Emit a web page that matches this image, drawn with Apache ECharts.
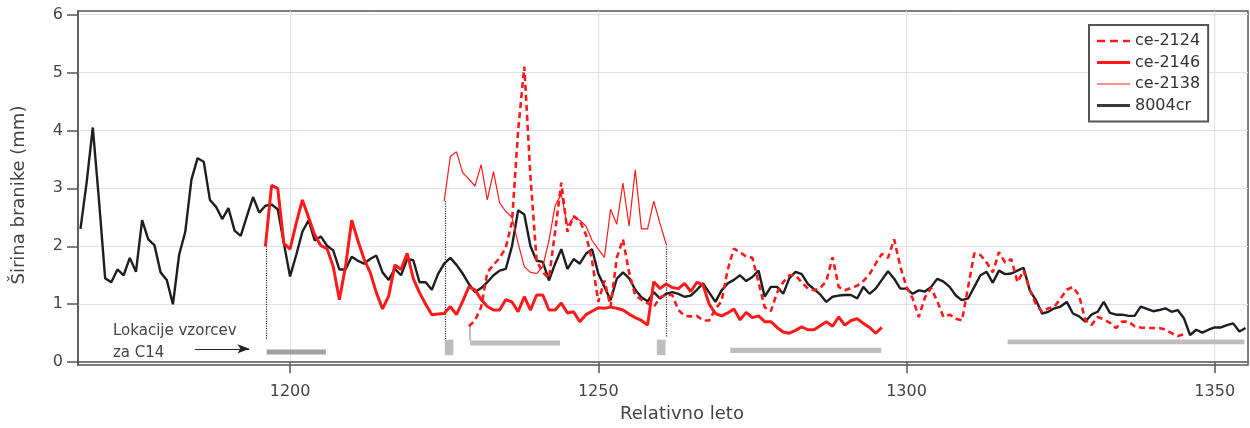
<!DOCTYPE html>
<html>
<head>
<meta charset="utf-8">
<script src="https://cdn.jsdelivr.net/npm/echarts@6/dist/echarts.min.js"></script>
<style>
html,body{margin:0;padding:0;background:#fff;}
#chart{width:1250px;height:428px;}
</style>
</head>
<body>
<div id="chart"></div>
<script>
// ---------- DATA ----------
const xTicks = [1200, 1250, 1300, 1350];
const yTicks = [0, 1, 2, 3, 4, 5, 6];

const start8004cr = 1166;
const values8004cr = [
 2.30,3.10,4.05,2.80,1.45,1.38,1.60,1.50,1.80,1.56,
 2.45,2.12,2.02,1.55,1.42,1.00,1.85,2.25,3.15,3.52,
 3.46,2.80,2.68,2.47,2.66,2.27,2.18,2.52,2.85,2.58,
 2.70,2.72,2.64,2.05,1.48,1.85,2.25,2.45,2.10,2.17,
 2.01,1.93,1.60,1.60,1.82,1.75,1.70,1.78,1.84,1.55,
 1.42,1.61,1.50,1.78,1.76,1.38,1.38,1.25,1.52,1.70,
 1.80,1.68,1.53,1.35,1.21,1.28,1.38,1.50,1.58,1.61,
 2.00,2.62,2.55,2.00,1.75,1.73,1.41,1.70,1.95,1.61,
 1.78,1.70,1.87,1.95,1.53,1.30,1.07,1.44,1.55,1.45,
 1.25,1.12,1.05,1.21,1.10,1.18,1.21,1.18,1.13,1.15,
 1.25,1.36,1.20,1.04,1.24,1.36,1.42,1.50,1.40,1.47,
 1.58,1.13,1.30,1.30,1.18,1.45,1.56,1.52,1.35,1.26,
 1.17,1.04,1.13,1.15,1.16,1.16,1.10,1.30,1.18,1.27,
 1.42,1.57,1.44,1.27,1.27,1.18,1.24,1.22,1.30,1.44,
 1.39,1.30,1.15,1.07,1.10,1.30,1.50,1.56,1.37,1.58,
 1.52,1.53,1.58,1.63,1.24,1.07,0.84,0.87,0.93,0.96,
 1.04,0.84,0.79,0.70,0.82,0.87,1.04,0.85,0.82,0.82,
 0.80,0.80,0.96,0.92,0.88,0.90,0.93,0.87,0.90,0.76,
 0.47,0.56,0.51,0.56,0.60,0.60,0.64,0.67,0.53,0.59
];

const startCe2146 = 1196;
const valuesCe2146 = [
 2.00,3.05,3.00,2.05,1.95,2.40,2.80,2.50,2.20,2.01,
 1.96,1.65,1.08,1.65,2.45,2.10,1.78,1.55,1.20,0.92,
 1.14,1.68,1.60,1.88,1.44,1.20,1.00,0.82,0.83,0.84,
 0.96,0.82,1.05,1.30,1.25,1.08,0.96,0.90,0.90,1.08,
 1.04,0.87,1.13,0.90,1.16,1.16,0.90,0.90,1.02,0.85,
 0.87,0.70,0.82,0.88,0.94,0.93,0.95,0.93,0.90,0.83,
 0.77,0.72,0.64,1.39,1.27,1.35,1.29,1.27,1.36,1.22,
 1.38,1.33,1.00,0.84,0.80,0.85,0.92,0.73,0.86,0.77,
 0.80,0.70,0.70,0.60,0.52,0.50,0.55,0.61,0.56,0.56,
 0.63,0.70,0.62,0.78,0.64,0.72,0.75,0.67,0.60,0.50,
 0.60
];

const startCe2138 = 1225;
const valuesCe2138 = [
 2.78,3.55,3.63,3.27,3.16,3.04,3.41,2.80,3.29,2.75,
 2.60,2.50,2.05,1.65,1.55,1.53,1.65,2.10,2.70,2.90,
 2.35,2.50,2.45,2.35,2.10,1.95,1.81,2.64,2.38,3.09,
 2.35,3.32,2.30,2.30,2.78,2.40,2.04
];

const startCe2124 = 1229;
const valuesCe2124 = [
 0.62,0.72,0.95,1.55,1.68,1.80,1.98,2.42,4.00,5.10,
 3.20,1.75,1.55,1.45,2.25,3.10,2.25,2.52,2.44,2.20,
 1.75,1.04,1.41,0.96,1.80,2.12,1.55,1.15,1.08,1.02,
 0.95,1.12,1.16,1.16,0.90,0.80,0.79,0.80,0.72,0.72,
 0.92,1.05,1.60,1.96,1.90,1.82,1.80,1.38,0.95,0.88,
 1.20,1.38,1.50,1.50,1.38,1.27,1.24,1.28,1.40,1.81,
 1.30,1.24,1.28,1.32,1.40,1.52,1.70,1.87,1.80,2.12,
 1.65,1.30,1.10,0.78,1.12,1.28,1.05,0.78,0.82,0.75,
 0.72,1.30,1.88,1.85,1.72,1.55,1.90,1.72,1.78,1.38,
 1.58,1.25,1.00,0.87,0.93,0.96,1.10,1.25,1.30,1.15,
 0.73,0.64,0.78,0.74,0.68,0.59,0.70,0.70,0.62,0.60,
 0.59,0.59,0.59,0.56,0.50,0.45,0.48
];

// C14 sample locations (x from, x to, y low, y high)
const c14From = [1196.2, 1225.1, 1229.2, 1259.5, 1271.4, 1316.4];
const c14To   = [1205.8, 1226.5, 1243.8, 1260.9, 1295.9, 1354.8];
const c14Low  = [0.135, 0.12, 0.29, 0.12, 0.16, 0.31];
const c14High = [0.220, 0.39, 0.375, 0.39, 0.25, 0.39];

// dotted connector lines (x, y top, y bottom)
const connX   = [1196.1, 1225.1, 1261.0];
const connTop = [2.00, 2.78, 2.04];
const connBot = [0.39, 0.39, 0.44];
// small grey connector at start of ce-2124
const greyConnX = 1229.2, greyConnTop = 0.62, greyConnBot = 0.375;

// annotation arrow (year from, year to, value)
const arrowFrom = 1184.6, arrowTo = 1193.4, arrowY = 0.23;

function pairs(start, vals){ return vals.map((v,i)=>[start+i, v]); }

// ---------- CHART ----------
const chart = echarts.init(document.getElementById('chart'), null, {renderer:'canvas'});
const FONT = 'DejaVu Sans';
const RED = '#ff1a1a';

// legend icons drawn as 33x14 paths (tiny corner points fix the bounding box)
const BOX = 'M0,0h0.01v0.01h-0.01z M33,14h-0.01v-0.01h0.01z ';
const ICON_DASH  = 'path://' + BOX + 'M0,5.7h8v2.6h-8z M13,5.7h8v2.6h-8z M26,5.7h7v2.6h-7z';
const ICON_THICK = 'path://' + BOX + 'M0,5.4h33v3.2h-33z';
const ICON_THIN  = 'path://' + BOX + 'M0,6.4h33v1.2h-33z';
const ICON_BLACK = 'path://' + BOX + 'M0,5.6h33v2.8h-33z';

const c14Data = c14From.map((f,i)=>[f, c14To[i], c14Low[i], c14High[i]]);

const option = {
  animation: false,
  textStyle: {fontFamily: FONT},
  grid: {left: 78, right: 2, top: 11, bottom: 60, show: true, borderColor: '#555', borderWidth: 1.5, backgroundColor: '#fff'},
  legend: {
    data: [
      {name: 'ce-2124', icon: ICON_DASH},
      {name: 'ce-2146', icon: ICON_THICK},
      {name: 'ce-2138', icon: ICON_THIN},
      {name: '8004cr',  icon: ICON_BLACK, itemStyle: {color: '#3a3a3a'}}
    ],
    orient: 'vertical', left: 1089, top: 25,
    padding: [8, 8, 8, 8], itemGap: 5.5, itemWidth: 33, itemHeight: 14,
    symbolKeepAspect: false,
    borderColor: '#555', borderWidth: 2, backgroundColor: '#fff',
    textStyle: {fontSize: 16, color: '#333', fontFamily: FONT, lineHeight: 14},
    selectedMode: false
  },
  xAxis: {
    type: 'value', min: 1165.6, max: 1355.4,
    name: 'Relativno leto', nameLocation: 'middle', nameGap: 38,
    nameTextStyle: {fontSize: 18, color: '#444', padding: [0,0,0,38]},
    axisLine: {show: true, lineStyle: {color: '#555', width: 1.5}},
    axisTick: {show: true, customValues: xTicks, length: 11, lineStyle: {color: '#555', width: 1.5}},
    axisLabel: {customValues: xTicks, fontSize: 16, color: '#444', margin: 19,
                formatter: function(v){ return String(Math.round(v)); }},
    splitLine: {show: true, lineStyle: {color: '#dedefa', width: 1}}
  },
  yAxis: {
    type: 'value', min: -0.05, max: 6.06,
    name: 'Širina branike (mm)', nameLocation: 'middle', nameGap: 50,
    nameTextStyle: {fontSize: 18, color: '#444', padding: [0,14,0,0]},
    axisLine: {show: true, lineStyle: {color: '#555', width: 1.5}},
    axisTick: {show: true, customValues: yTicks, length: 11, lineStyle: {color: '#555', width: 1.5}},
    axisLabel: {customValues: yTicks, fontSize: 16, color: '#444', margin: 15,
                formatter: function(v){ return String(Math.round(v)); }},
    splitLine: {show: true, lineStyle: {color: '#dedefa', width: 1}}
  },
  series: [
    {
      name: 'c14', type: 'custom', z: 2,
      encode: {x: [0,1], y: [2,3]},
      data: c14Data,
      renderItem: function(params, api){
        const p0 = api.coord([api.value(0), api.value(3)]);
        const p1 = api.coord([api.value(1), api.value(2)]);
        return {type: 'rect', shape: {x: p0[0], y: p0[1], width: p1[0]-p0[0], height: p1[1]-p0[1]},
                style: {fill: params.dataIndex === 0 ? '#a0a0a0' : '#bdbdbd'}};
      }
    },
    {
      name: 'helpers', type: 'line', data: [], z: 3, silent: true,
      markLine: {
        silent: true, symbol: 'none', label: {show: false},
        lineStyle: {type: 'dotted', color: '#333', width: 1.2},
        data: connX.map((x,i)=>[{coord:[x, connTop[i]]},{coord:[x, connBot[i]]}]).concat([
          [{coord:[greyConnX, greyConnTop], lineStyle:{type:'solid', color:'#aaa', width:1.5}},
           {coord:[greyConnX, greyConnBot]}]
        ])
      }
    },
    {
      name: 'arrow', type: 'line', data: [], z: 3, silent: true,
      markLine: {
        silent: true, symbol: ['none','arrow'], symbolSize: [7, 12], label: {show: false},
        lineStyle: {type: 'solid', color: '#222', width: 1},
        data: [[{coord:[arrowFrom, arrowY]},{coord:[arrowTo, arrowY]}]]
      }
    },
    {
      name: '8004cr', type: 'line', z: 4, symbol: 'none', color: '#222',
      lineStyle: {color: '#1e1e1e', width: 2.4},
      data: pairs(start8004cr, values8004cr)
    },
    {
      name: 'ce-2138', type: 'line', z: 5, symbol: 'none', color: RED,
      lineStyle: {color: RED, width: 1.2},
      data: pairs(startCe2138, valuesCe2138)
    },
    {
      name: 'ce-2146', type: 'line', z: 6, symbol: 'none', color: RED,
      lineStyle: {color: RED, width: 3},
      data: pairs(startCe2146, valuesCe2146)
    },
    {
      name: 'ce-2124', type: 'line', z: 7, symbol: 'none', color: RED,
      lineStyle: {color: RED, width: 2.6, type: [6, 4]},
      data: pairs(startCe2124, valuesCe2124)
    }
  ],
  graphic: [
    {type: 'text', left: 113, top: 324, style: {text: 'Lokacije vzorcev', fontSize: 15, fill: '#444', fontFamily: FONT}},
    {type: 'text', left: 113, top: 346, style: {text: 'za C14', fontSize: 15, fill: '#444', fontFamily: FONT}}
  ]
};
chart.setOption(option);
</script>
</body>
</html>
